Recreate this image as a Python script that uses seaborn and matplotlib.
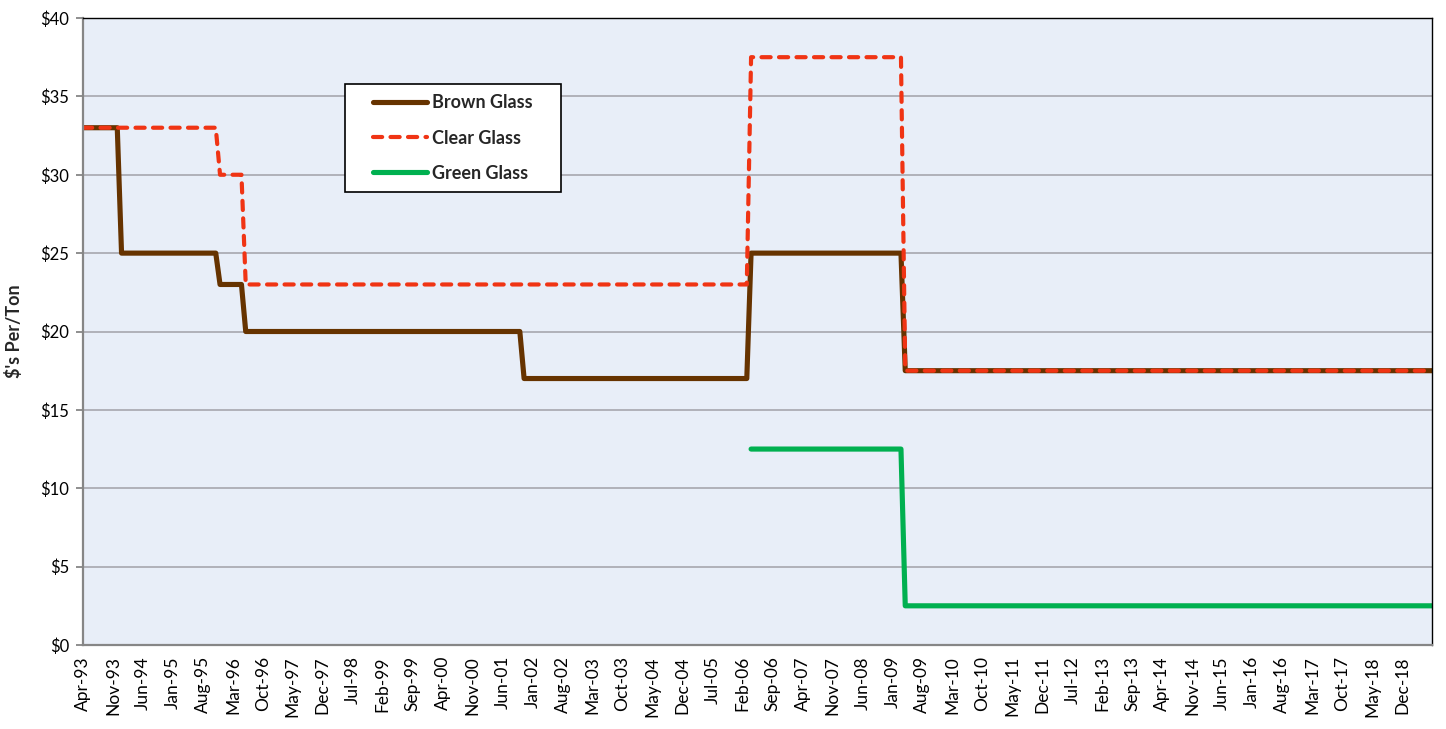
import numpy as np
import pandas as pd
import matplotlib
matplotlib.use("Agg")
import matplotlib.pyplot as plt
from matplotlib.patches import Rectangle
import seaborn as sns

# ---------------- data (monthly, Apr-93 .. Jul-19) ----------------
n_months = 316
brown_values = [33, 25, 23, 20, 17, 25, 17.5]
brown_runs = [9, 23, 6, 65, 53, 36, 124]
clear_values = [33, 30, 23, 37.5, 17.5]
clear_runs = [32, 6, 118, 36, 124]
green_values = [np.nan, 12.5, 2.5]
green_runs = [156, 36, 124]

tick_labels = ["Apr-93", "Nov-93", "Jun-94", "Jan-95", "Aug-95", "Mar-96", "Oct-96",
               "May-97", "Dec-97", "Jul-98", "Feb-99", "Sep-99", "Apr-00", "Nov-00",
               "Jun-01", "Jan-02", "Aug-02", "Mar-03", "Oct-03", "May-04", "Dec-04",
               "Jul-05", "Feb-06", "Sep-06", "Apr-07", "Nov-07", "Jun-08", "Jan-09",
               "Aug-09", "Mar-10", "Oct-10", "May-11", "Dec-11", "Jul-12", "Feb-13",
               "Sep-13", "Apr-14", "Nov-14", "Jun-15", "Jan-16", "Aug-16", "Mar-17",
               "Oct-17", "May-18", "Dec-18"]
y_ticks = [0, 5, 10, 15, 20, 25, 30, 35, 40]
y_tick_labels = ["$0", "$5", "$10", "$15", "$20", "$25", "$30", "$35", "$40"]

df = pd.DataFrame({
    "month": np.arange(n_months),
    "Brown Glass": np.repeat(brown_values, brown_runs),
    "Clear Glass": np.repeat(clear_values, clear_runs),
    "Green Glass": np.repeat(green_values, green_runs),
})

# ---------------- style ----------------
sns.set_theme(style="white")
plt.rcParams["font.family"] = ["Lato", "DejaVu Sans"]

W, H = 1446, 729
fig = plt.figure(figsize=(W / 100, H / 100), dpi=100)
L, R, T, B = 83, 1432, 18, 645
ax = fig.add_axes([L / W, 1 - B / H, (R - L) / W, (B - T) / H])
ax.set_facecolor("#E8EEF8")

brown = "#663300"
red = "#F03414"
green = "#00B050"

sns.lineplot(data=df, x="month", y="Brown Glass", ax=ax, color=brown, lw=3.7,
             label="Brown Glass", solid_capstyle="round", solid_joinstyle="round")
sns.lineplot(data=df, x="month", y="Clear Glass", ax=ax, color=red, lw=3.0,
             label="Clear Glass", linestyle="--")
sns.lineplot(data=df, x="month", y="Green Glass", ax=ax, color=green, lw=3.7,
             label="Green Glass", solid_capstyle="round", solid_joinstyle="round")
clear_line = ax.lines[1]
clear_line.set_dashes([2.2, 2.0])
clear_line.set_dash_capstyle("round")
clear_line.set_dash_joinstyle("round")

ax.set_xlim(0, n_months - 1)
ax.set_ylim(0, 40)
ax.set_xticks(np.arange(0, n_months, 7)[:len(tick_labels)])
ax.set_xticklabels(tick_labels, rotation=90)
ax.set_yticks(y_ticks)
ax.set_yticklabels(y_tick_labels)
ax.set_xlabel("")
ax.set_ylabel("$'s Per/Ton", fontweight="bold", fontsize=13)
ax.yaxis.set_label_coords(-0.0445, 0.5)

ax.yaxis.grid(True, color="#A6A6AE", lw=1.2)
ax.xaxis.grid(False)
ax.set_axisbelow(True)

for s in ["left", "bottom"]:
    ax.spines[s].set_color("#868686")
    ax.spines[s].set_linewidth(1.6)
for s in ["top", "right"]:
    ax.spines[s].set_color("black")
    ax.spines[s].set_linewidth(1.0)

ax.tick_params(axis="y", left=True, length=5, width=1.3, color="#868686",
               labelsize=12, pad=5, labelcolor="black")
ax.tick_params(axis="x", bottom=False, length=0, labelsize=12.5, pad=8,
               labelcolor="black")

# legend box
box = Rectangle((345 / W, 1 - 192 / H), 216 / W, 108 / H, transform=fig.transFigure,
                facecolor="white", edgecolor="black", lw=1.2, zorder=4, clip_on=False)
ax.add_patch(box)
leg = ax.legend(loc="center", bbox_to_anchor=(453 / W, 1 - 138 / H),
                bbox_transform=fig.transFigure, frameon=False,
                prop={"weight": "bold", "size": 13}, handlelength=3.0,
                handletextpad=0.3, labelspacing=1.0)
leg.set_zorder(6)

fig.savefig("out.png", dpi=100)
